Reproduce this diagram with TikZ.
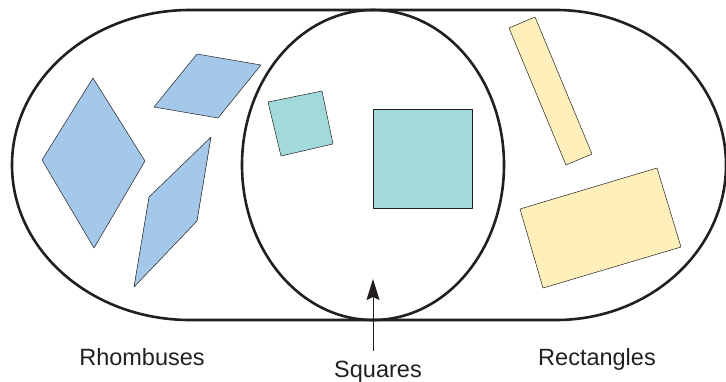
\documentclass[tikz,border=0pt]{standalone}
\usepackage{fontspec}
\setmainfont{Liberation Sans}
\usepackage{xcolor}
\usetikzlibrary{arrows.meta}

\definecolor{rhombblue}{HTML}{A3C8EA}
\definecolor{squareteal}{HTML}{A2D9DA}
\definecolor{rectyellow}{HTML}{FFEFBA}
\definecolor{inkgray}{HTML}{231F20}

\begin{document}
\begin{tikzpicture}[
    x=1pt, y=-1pt,
    setline/.style={draw=inkgray, line width=2.6pt},
    rhombfill/.style={fill=rhombblue, draw=inkgray, line width=0.5pt, line join=round},
    squarefill/.style={fill=squareteal, draw=inkgray, line width=0.5pt, line join=round},
    rectfill/.style={fill=rectyellow, draw=inkgray, line width=0.5pt, line join=round},
    setlabel/.style={anchor=base, inner sep=0pt, text=inkgray, font=\fontsize{23.5}{28}\selectfont},
    arrow/.style={-{Stealth[length=21pt, width=13pt, inset=3pt]}, draw=inkgray, line width=0.9pt}
  ]
    \useasboundingbox (0,0) rectangle (726,381);
    % the two sets and their overlap
    \draw[setline] (190,10) -- (556,10) arc (-90:90:170 and 155)
      -- (190,320) arc (90:270:178 and 155) -- cycle;
    \draw[setline] (373,165) ellipse [x radius=131, y radius=155];
    % rhombuses
    \draw[rhombfill] (93,78) -- (145,161) -- (94,248) -- (42,160) -- cycle;
    \draw[rhombfill] (197,54) -- (261,65) -- (218,118) -- (154,107) -- cycle;
    \draw[rhombfill] (211,137) -- (197,221) -- (134,287) -- (149,197) -- cycle;
    % squares
    \draw[squarefill] (268,102) -- (322,91) -- (333,144) -- (281,156) -- cycle;
    \draw[squarefill] (373,109) rectangle (472,208);
    % rectangles
    \draw[rectfill] (509,28) -- (535,17) -- (592,154) -- (566,165) -- cycle;
    \draw[rectfill] (520,209) -- (657,168) -- (681,247) -- (543,288) -- cycle;
    % labels
    \node[setlabel] (rhomb) at (142,365) {Rhombuses};
    \node[setlabel] (squares) at (378,377) {Squares};
    \node[setlabel] (rects) at (597,365) {Rectangles};
    \coordinate (sqtail) at (373,351);
    \coordinate (sqtip) at (373,279);
    \draw[arrow] (sqtail) -- (sqtip);
\end{tikzpicture}
\end{document}
